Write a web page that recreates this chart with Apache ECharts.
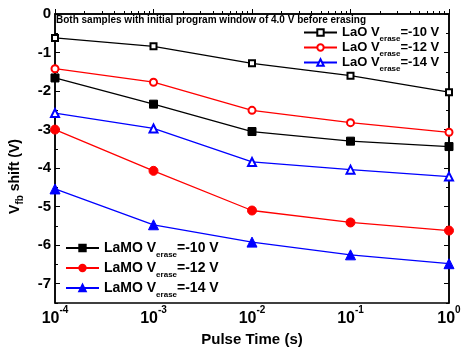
<!DOCTYPE html>
<html>
<head>
<meta charset="utf-8">
<script src="https://cdn.jsdelivr.net/npm/echarts@6/dist/echarts.min.js"></script>
<style>
  html, body { margin: 0; padding: 0; background: #fff; }
  #chart { width: 464px; height: 352px; }
</style>
</head>
<body>
<div id="chart"></div>
<script>
// pulse time (s), log scale
const pulseTime = [1e-4, 1e-3, 1e-2, 1e-1, 1]
// Vfb shift (V)
const laO10 = [-0.62, -0.84, -1.28, -1.60, -2.03]
const laO12 = [-1.42, -1.77, -2.50, -2.82, -3.07]
const laO14 = [-2.57, -2.97, -3.84, -4.04, -4.22]
const laMO10 = [-1.66, -2.34, -3.05, -3.30, -3.44]
const laMO12 = [-3.00, -4.07, -5.10, -5.41, -5.62]
const laMO14 = [-4.54, -5.47, -5.92, -6.25, -6.48]

const yTicks = [0, -1, -2, -3, -4, -5, -6, -7]
const yMinorTicks = [-0.5, -1.5, -2.5, -3.5, -4.5, -5.5, -6.5, -7.5]
const xMinorTicks = []
;[1e-4, 1e-3, 1e-2, 1e-1].forEach(d => {
  for (let k = 2; k <= 9; k++) xMinorTicks.push(k * d)
})

const FONT = 'Liberation Sans'

function pairs (ys) {
  return ys.map((y, i) => [pulseTime[i], y])
}

function mk (name, color, symbol, size, ys) {
  return {
    name: name,
    type: 'line',
    data: pairs(ys),
    symbol: symbol,
    symbolSize: size,
    showSymbol: true,
    lineStyle: {color: color, width: 1.3},
    itemStyle: {color: color, borderColor: color, borderWidth: 1},
    emphasis: {disabled: true},
    animation: false
  }
}

function legendRich (size) {
  return {
    b: {fontFamily: FONT, fontSize: size, fontWeight: 'bold', color: '#000', lineHeight: size, verticalAlign: 'top'},
    s: {fontFamily: FONT, fontSize: 8, fontWeight: 'bold', color: '#000', lineHeight: 8, padding: [size - 4, 0, 0, 0], verticalAlign: 'top'}
  }
}

function legendFmt (name) {
  const parts = name.split(' ')
  return '{b|' + parts[0] + ' V}{s|erase}{b|=' + parts[1] + ' V}'
}

function yAx (pos, values, len, showLine, label) {
  return {
    type: 'value',
    position: pos,
    min: -7.5,
    max: 0,
    axisLine: {show: showLine, lineStyle: {color: '#000', width: 1.5}},
    axisTick: {show: true, inside: true, length: len, customValues: values, lineStyle: {color: '#000', width: 1}},
    axisLabel: label || {show: false},
    splitLine: {show: false}
  }
}

const chart = echarts.init(document.getElementById('chart'), null, {renderer: 'canvas'})
chart.setOption({
  backgroundColor: '#fff',
  animation: false,
  title: {
    text: 'Both samples with initial program window of 4.0 V before erasing',
    left: 56,
    top: 15,
    padding: 0,
    textStyle: {fontFamily: FONT, fontSize: 10, fontWeight: 'bold', color: '#000'}
  },
  grid: {left: 53, right: 15, top: 14, bottom: 48, show: true, borderColor: '#000', borderWidth: 1.5, containLabel: false},
  legend: [
    {
      data: ['LaO -10', 'LaO -12', 'LaO -14'],
      orient: 'vertical',
      left: 303,
      top: 26,
      itemWidth: 33,
      itemHeight: 8,
      itemGap: -2,
      padding: 0,
      formatter: legendFmt,
      textStyle: {rich: legendRich(13)},
      selectedMode: false
    },
    {
      data: ['LaMO -10', 'LaMO -12', 'LaMO -14'],
      orient: 'vertical',
      left: 65,
      top: 241,
      itemWidth: 33,
      itemHeight: 8,
      itemGap: 2,
      padding: 0,
      formatter: legendFmt,
      textStyle: {rich: legendRich(14)},
      selectedMode: false
    }
  ],
  xAxis: [
    {
      type: 'log',
      logBase: 10,
      min: 1e-4,
      max: 1,
      position: 'bottom',
      name: 'Pulse Time (s)',
      nameLocation: 'middle',
      nameGap: 29,
      nameTextStyle: {fontFamily: FONT, fontSize: 15, fontWeight: 'bold', color: '#000', verticalAlign: 'top'},
      axisLine: {show: true, lineStyle: {color: '#000', width: 1.5}},
      axisTick: {show: true, inside: true, length: 5, lineStyle: {color: '#000', width: 1}},
      axisLabel: {
        margin: 2,
        formatter: v => '{b|10}{p|' + Math.round(Math.log10(v)) + '}',
        rich: {
          b: {fontFamily: FONT, fontSize: 16, fontWeight: 'bold', color: '#000', lineHeight: 16, padding: [6, 0, 0, 0], verticalAlign: 'top'},
          p: {fontFamily: FONT, fontSize: 10, fontWeight: 'bold', color: '#000', lineHeight: 10, verticalAlign: 'top'}
        }
      },
      splitLine: {show: false}
    },
    {
      type: 'log',
      logBase: 10,
      min: 1e-4,
      max: 1,
      position: 'bottom',
      axisLine: {show: false},
      axisTick: {show: true, inside: true, length: 3, customValues: xMinorTicks, lineStyle: {color: '#000', width: 1}},
      axisLabel: {show: false},
      splitLine: {show: false}
    }
  ],
  yAxis: [
    Object.assign(yAx('left', yTicks, 5, true, {
      show: true,
      customValues: yTicks,
      margin: 4,
      fontFamily: FONT,
      fontSize: 15,
      fontWeight: 'bold',
      color: '#000'
    }), {
      name: '{b|V}{s|fb}{b| shift (V)}',
      nameLocation: 'middle',
      nameGap: 30,
      nameTextStyle: {
        padding: [0, 36, 0, 0],
        rich: {
          b: {fontFamily: FONT, fontSize: 14, fontWeight: 'bold', color: '#000', lineHeight: 17, verticalAlign: 'top'},
          s: {fontFamily: FONT, fontSize: 10, fontWeight: 'bold', color: '#000', lineHeight: 10, padding: [7, 0, 0, 0], verticalAlign: 'top'}
        }
      }
    }),
    yAx('left', yMinorTicks, 3, false),
    yAx('right', yTicks, 5, true),
    yAx('right', yMinorTicks, 3, false)
  ],
  series: [
    mk('LaO -10', '#000000', 'emptyRect', 6, laO10),
    mk('LaO -12', '#ff0000', 'emptyCircle', 7, laO12),
    mk('LaO -14', '#0000ff', 'emptyTriangle', 8, laO14),
    mk('LaMO -10', '#000000', 'rect', 8, laMO10),
    mk('LaMO -12', '#ff0000', 'circle', 9, laMO12),
    mk('LaMO -14', '#0000ff', 'triangle', 10, laMO14)
  ]
})
window.addEventListener('resize', () => {
  chart.resize()
})
</script>
</body>
</html>
